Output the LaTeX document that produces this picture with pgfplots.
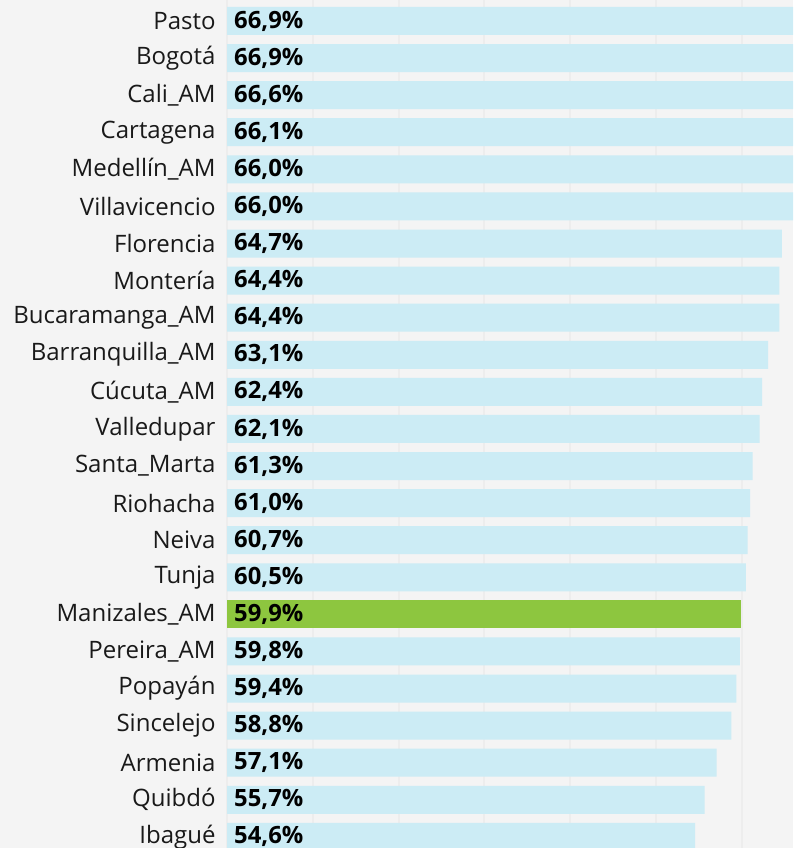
\documentclass[border=0pt]{standalone}
\usepackage{pgfplots}
\pgfplotsset{compat=1.18}
\usepackage{pgfplotstable}
\usepackage{fontspec}
\setmainfont{Open Sans}
\definecolor{bgc}{RGB}{244,244,244}
\definecolor{barblue}{RGB}{204,236,245}
\definecolor{bargreen}{RGB}{141,198,63}
\definecolor{gridc}{RGB}{237,237,237}
\pgfplotstableread{
idx val
0 66.9
1 66.9
2 66.6
3 66.1
4 66.0
5 66.0
6 64.7
7 64.4
8 64.4
9 63.1
10 62.4
11 62.1
12 61.3
13 61.0
14 60.7
15 60.5
16 59.9
17 59.8
18 59.4
19 58.8
20 57.1
21 55.7
22 54.6
}\datatable
\pgfplotstableread{
idx val
0 66.9
1 66.9
2 66.6
3 66.1
4 66.0
5 66.0
6 64.7
7 64.4
8 64.4
9 63.1
10 62.4
11 62.1
12 61.3
13 61.0
14 60.7
15 60.5
17 59.8
18 59.4
19 58.8
20 57.1
21 55.7
22 54.6
}\bluetable
\pgfplotstableread{
idx val
16 59.9
}\greentable
\begin{document}
\begin{tikzpicture}
\path[use as bounding box, fill=bgc] (0,0) rectangle (793pt,848pt);
\begin{axis}[
  at={(227pt,0pt)}, anchor=south west,
  scale only axis, width=566pt, height=848pt,
  xmin=0, xmax=66.0, ymin=-0.566, ymax=22.3,
  y dir=reverse,
  axis line style={draw=none},
  tick style={draw=none},
  xtick={0,10,...,60}, xticklabels={},
  xmajorgrids, major grid style={color=gridc, line width=2pt},
  ytick={0,...,22},
  yticklabels={Pasto,Bogotá,Cali\_AM,Cartagena,Medellín\_AM,Villavicencio,Florencia,Montería,Bucaramanga\_AM,Barranquilla\_AM,Cúcuta\_AM,Valledupar,Santa\_Marta,Riohacha,Neiva,Tunja,Manizales\_AM,Pereira\_AM,Popayán,Sincelejo,Armenia,Quibdó,Ibagué},
  yticklabel style={inner sep=0pt, xshift=-7pt, font=\fontsize{24}{28}\selectfont, text=black!90},
  xbar, bar width=0.755, bar shift=0pt,
]
\addplot[fill=barblue, draw=none] table[x=val, y=idx] {\bluetable};
\addplot[fill=bargreen, draw=none] table[x=val, y=idx] {\greentable};
\addplot[draw=none, mark=none, xbar=false,
  nodes near coords={\pgfmathprintnumber[assume math mode=true,fixed,fixed zerofill,precision=1,use comma]{\pgfplotspointmeta}\%},
  point meta=explicit,
  nodes near coords style={anchor=west, inner sep=0pt, xshift=7pt, font=\fontsize{23.8}{28}\selectfont\bfseries, text=black}]
  table[x expr=0, y=idx, meta=val] {\datatable};
\end{axis}
\end{tikzpicture}
\end{document}
